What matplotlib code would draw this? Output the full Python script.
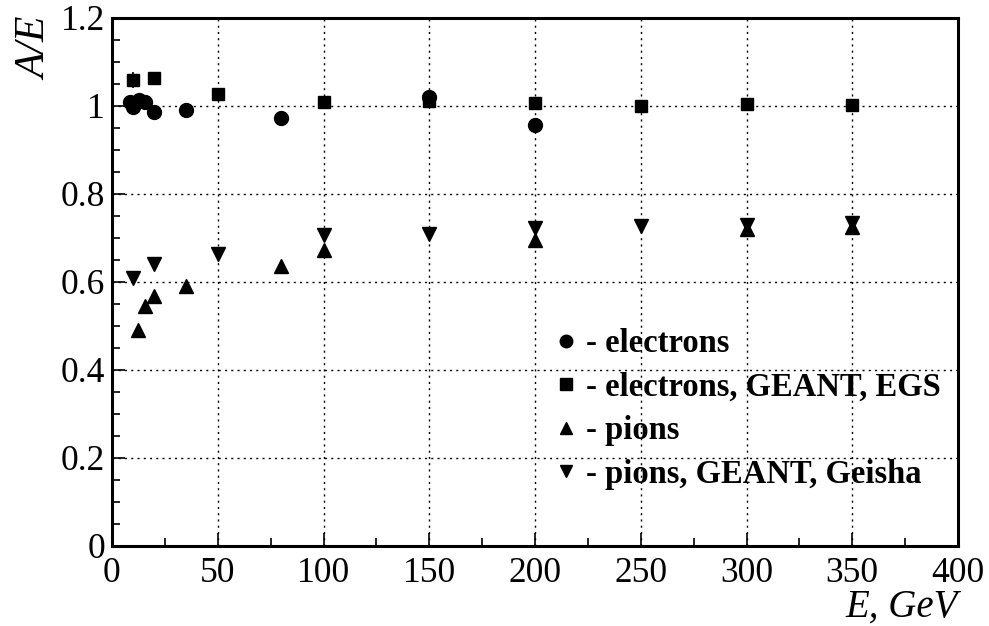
import numpy as np
import matplotlib
matplotlib.use("Agg")
import matplotlib.pyplot as plt
from matplotlib.lines import Line2D

plt.rcParams['font.family'] = ['Liberation Serif', 'DejaVu Serif']

# electrons, data
e_el = [8.5, 10, 13, 15.5, 20, 35, 80, 150, 200]
a_el = [1.010, 0.998, 1.014, 1.010, 0.986, 0.991, 0.973, 1.021, 0.957]

# electrons, GEANT / EGS
e_el_mc = [10, 20, 50, 100, 150, 200, 250, 300, 350]
a_el_mc = [1.059, 1.064, 1.027, 1.009, 1.012, 1.007, 1.000, 1.005, 1.002]
err_el_mc = [0.018, 0, 0, 0, 0, 0, 0, 0, 0]

# pions, data
e_pi = [12.5, 15.5, 20, 35, 80, 100, 200, 300, 350]
a_pi = [0.491, 0.545, 0.568, 0.592, 0.636, 0.673, 0.695, 0.721, 0.726]

# pions, GEANT / Geisha
e_pi_mc = [10, 20, 50, 100, 150, 200, 250, 300, 350]
a_pi_mc = [0.609, 0.641, 0.664, 0.707, 0.709, 0.723, 0.727, 0.730, 0.734]
err_pi_mc = [0.012, 0, 0, 0, 0, 0, 0, 0, 0]

legend_labels = ["- electrons", "- electrons, GEANT, EGS",
                 "- pions", "- pions, GEANT, Geisha"]

fig = plt.figure(figsize=(9.89, 6.26), dpi=100)
ax = fig.add_axes([112 / 989, 1 - 546 / 626, 846 / 989, 528 / 626])

ms = 10
ax.errorbar(e_el_mc, a_el_mc, yerr=err_el_mc, fmt='s', color='black',
            ms=9, elinewidth=1.2, capsize=0)
ax.errorbar(e_pi_mc, a_pi_mc, yerr=err_pi_mc, fmt='v', color='black',
            ms=ms, elinewidth=1.2, capsize=0)
ax.plot(e_el, a_el, 'o', color='black', ms=ms)
ax.plot(e_pi, a_pi, '^', color='black', ms=ms)

ax.set_xlim(0, 400)
ax.set_ylim(0, 1.2)
ax.set_xticks(np.arange(0, 401, 50))
ax.set_xticks(np.arange(0, 401, 25), minor=True)
ax.set_yticks(np.arange(0, 1.21, 0.2))
ax.set_yticks(np.arange(0, 1.21, 0.05), minor=True)
ax.set_yticklabels(["0", "0.2", "0.4", "0.6", "0.8", "1", "1.2"])
ax.tick_params(which='both', direction='in', labelsize=25.5, width=1.2)
ax.tick_params(which='major', length=9.5)
ax.tick_params(axis='y', which='major', pad=5)
ax.tick_params(axis='x', which='major', pad=8)
ax.tick_params(which='minor', length=5.5)
ax.grid(True, which='major', linestyle=(0, (1.5, 3)), color='black',
        linewidth=1.0)
ax.set_axisbelow(True)
for s in ax.spines.values():
    s.set_linewidth(2.2)

ax.text(-0.09, 1.0, "A/E", transform=ax.transAxes, rotation=90,
        fontsize=30, style='italic', ha='center', va='top')
ax.text(1.0, -0.08, "E, GeV", transform=ax.transAxes,
        fontsize=28, style='italic', ha='right', va='top')

handles = [Line2D([], [], marker=m, color='black', linestyle='none',
                  markersize=s)
           for m, s in zip(['o', 's', '^', 'v'], [9, 8, 8.5, 8.5])]
leg = ax.legend(handles, legend_labels, loc='upper left',
                bbox_to_anchor=(0.510, 0.437), frameon=False,
                prop={'weight': 'bold', 'size': 23.5},
                handlelength=0.6, handletextpad=0.3, labelspacing=0.38,
                borderaxespad=0)

fig.savefig("out.png", dpi=100)
